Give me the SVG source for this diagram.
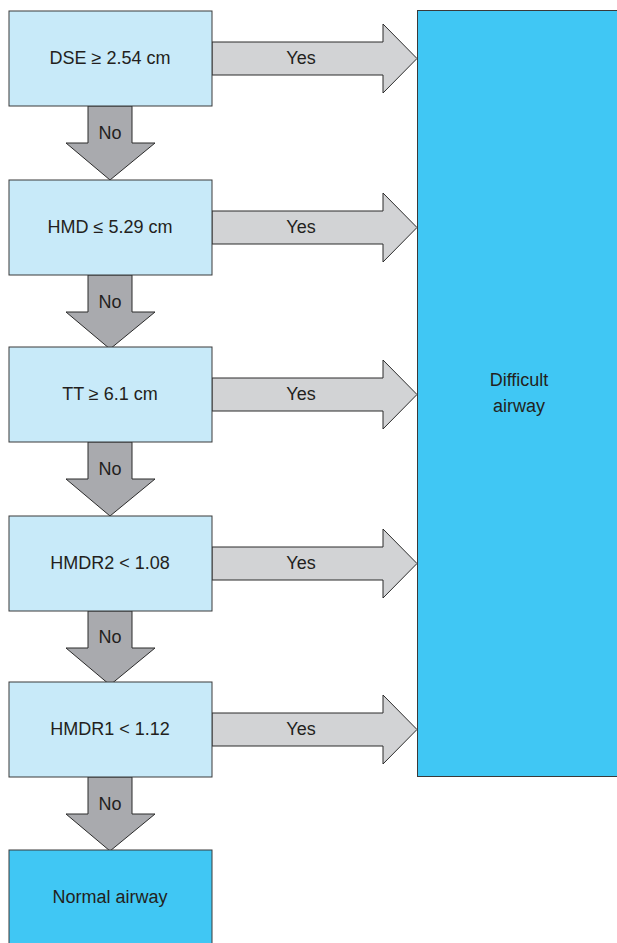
<svg xmlns="http://www.w3.org/2000/svg" width="617" height="943" viewBox="0 0 617 943">
<style>
.box{fill:#c8eaf9;stroke:#3a3a3a;stroke-width:1}
.blue{fill:#40c7f4;stroke:#3a3a3a;stroke-width:1}
.down{fill:#a9aaae;stroke:#2b2b2b;stroke-width:1}
.right{fill:#d2d3d5;stroke:#2b2b2b;stroke-width:1}
text{font-family:"Liberation Sans",Arial,sans-serif;font-size:18px;fill:#231f20;text-anchor:middle}
</style>
<defs>
<polygon id="ra" class="right" points="212,42 383,42 383,24 417,58.5 383,93 383,75 212,75"/>
<polygon id="da" class="down" points="88,0 132,0 132,37 155,37 110,74 66,37 88,37"/>
</defs>
<g id="connectors">
<use href="#ra" y="0"/><use href="#ra" y="169"/><use href="#ra" y="336"/><use href="#ra" y="505"/><use href="#ra" y="671"/>
<use href="#da" y="106"/><use href="#da" y="275"/><use href="#da" y="442"/><use href="#da" y="611"/><use href="#da" y="777"/>
<text x="301" y="64">Yes</text>
<text x="301" y="233">Yes</text>
<text x="301" y="400">Yes</text>
<text x="301" y="569">Yes</text>
<text x="301" y="735">Yes</text>
<text x="110" y="139">No</text>
<text x="110" y="308">No</text>
<text x="110" y="475">No</text>
<text x="110" y="643">No</text>
<text x="110" y="810">No</text>
</g>
<g id="n1"><rect class="box" x="9" y="11" width="203" height="95"/><text x="110" y="64">DSE ≥ 2.54 cm</text></g>
<g id="n2"><rect class="box" x="9" y="180" width="203" height="95"/><text x="110" y="233">HMD ≤ 5.29 cm</text></g>
<g id="n3"><rect class="box" x="9" y="347" width="203" height="95"/><text x="110" y="400">TT ≥ 6.1 cm</text></g>
<g id="n4"><rect class="box" x="9" y="516" width="203" height="95"/><text x="110" y="569">HMDR2 &lt; 1.08</text></g>
<g id="n5"><rect class="box" x="9" y="682" width="203" height="95"/><text x="110" y="735">HMDR1 &lt; 1.12</text></g>
<g id="normal"><rect class="blue" x="9" y="850" width="203" height="100"/><text x="110" y="903">Normal airway</text></g>
<g id="difficult"><rect class="blue" x="417.5" y="10.5" width="210" height="766"/><text x="519" y="386">Difficult</text><text x="519" y="412">airway</text></g>
</svg>
